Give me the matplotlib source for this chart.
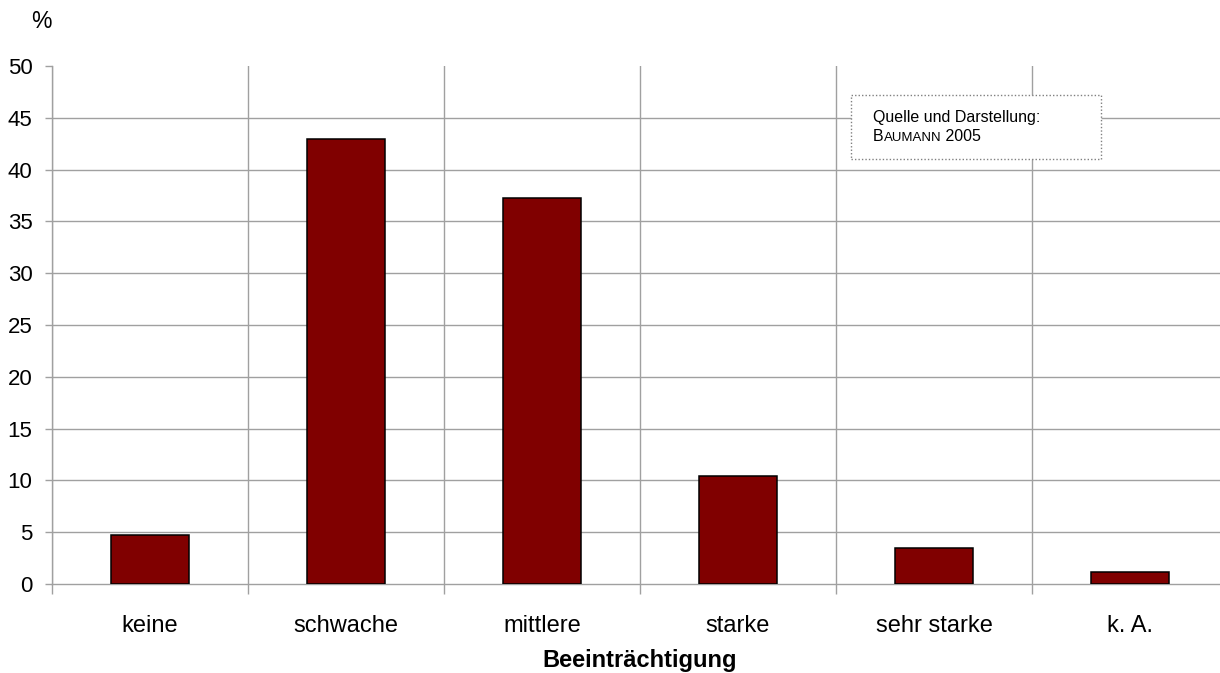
import numpy as np
import matplotlib.pyplot as plt
from matplotlib.patches import Rectangle
from matplotlib.text import Annotation

plt.rcParams['font.family'] = ['Liberation Sans', 'DejaVu Sans']

kategorien = ['keine', 'schwache', 'mittlere', 'starke', 'sehr starke', 'k. A.']
anteile = [4.7, 43.0, 37.3, 10.4, 3.5, 1.2]
y_ticks = [0, 5, 10, 15, 20, 25, 30, 35, 40, 45, 50]

grau = '#a0a0a0'

fig = plt.figure(figsize=(12.2, 6.73), dpi=100)
# rechter Rand der Achse liegt etwas ausserhalb der Abbildung (wie im Original abgeschnitten)
ax = fig.add_axes([52/1220, 89/673, 1176/1220, 518/673])

x = np.arange(len(kategorien))
ax.bar(x, anteile, width=0.4, color='#800000', edgecolor='black', linewidth=1.1, zorder=3)

ax.set_xlim(-0.5, len(kategorien) - 0.5)
ax.set_ylim(0, 50)
ax.set_yticks(y_ticks)
ax.set_xticks(x)
ax.set_xticklabels(kategorien)
ax.set_xticks(np.arange(len(kategorien) + 1) - 0.5, minor=True)

ax.tick_params(axis='x', which='major', length=0, pad=22, labelsize=17)
ax.tick_params(axis='x', which='minor', length=7, width=1, color=grau)
ax.tick_params(axis='y', length=5, width=1, color=grau, pad=9, labelsize=16)

for s in ['top', 'right']:
  ax.spines[s].set_visible(False)
for s in ['left', 'bottom']:
  ax.spines[s].set_color(grau)
  ax.spines[s].set_linewidth(1)

# Gitternetz: horizontal auf den Hauptticks, vertikal zwischen den Kategorien
ax.yaxis.grid(True, color=grau, linewidth=1, zorder=0)
ax.xaxis.grid(True, which='minor', color=grau, linewidth=1, zorder=0)
ax.get_ygridlines()[-1].set_visible(False)
ax.get_ygridlines()[0].set_visible(False)
ax.set_axisbelow(True)

fig.text(41/1220, 1 - 22/673, '%', ha='center', va='center', fontsize=16.5)
fig.text(640/1220, 1 - 661/673, 'Beeinträchtigung', ha='center', va='center',
         fontsize=17, fontweight='bold')

# Quellenkasten mit gepunktetem Rand
kasten = Rectangle((851/1220, 1 - 159/673), 250/1220, 64/673, transform=fig.transFigure,
                   facecolor='white', edgecolor='#808080', linestyle=(0, (1, 1.5)),
                   linewidth=1, zorder=5)
fig.patches.append(kasten)
fig.text(873/1220, 1 - 122/673, 'Quelle und Darstellung:', fontsize=11.5, va='baseline', zorder=6)
# Kapitaelchen: grosses B, Rest kleiner
t_b = fig.text(873/1220, 1 - 141/673, 'B', fontsize=11.5, va='baseline', zorder=6)
t_a = Annotation('AUMANN', xy=(1, 0), xycoords=t_b, va='bottom', ha='left',
                 fontsize=9.5, zorder=6)
fig.add_artist(t_a)
t_j = Annotation(' 2005', xy=(1, 0), xycoords=t_a, va='bottom', ha='left',
                 fontsize=11.5, zorder=6)
fig.add_artist(t_j)

plt.savefig('out.png', dpi=100)
